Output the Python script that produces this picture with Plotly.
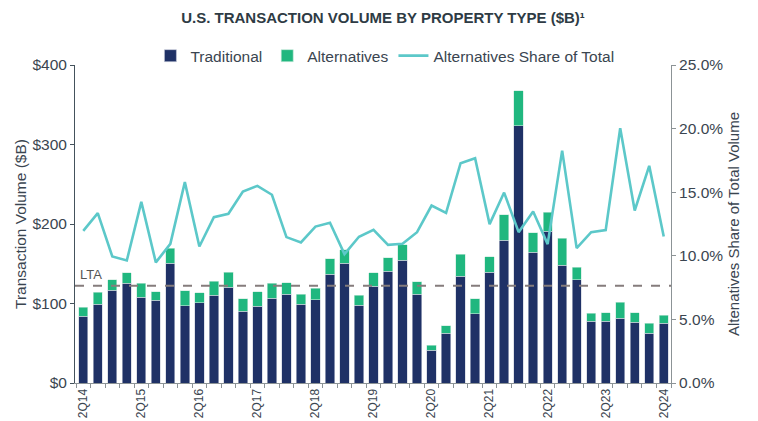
import plotly.graph_objects as go

quarters = []
for yr in range(14, 25):
    for q in range(1, 5):
        quarters.append(f"{q}Q{yr}")
quarters = quarters[1:42]  # 2Q14 .. 2Q24

traditional = [83.8, 98.9, 116.4, 125.2, 107.6, 103.9, 150.8, 97.2, 100.9, 110.6,
               120.6, 90.1, 96.3, 106.4, 111.4, 98.9, 104.7, 136.5, 150.4, 97.6,
               121.5, 140.3, 154.6, 111.8, 41.0, 62.8, 134.0, 87.1, 139.1, 179.7,
               323.8, 164.2, 191.0, 148.3, 129.8, 77.5, 77.5, 81.3, 76.2, 62.4, 75.4]
total = [95.5, 114.3, 129.8, 138.6, 125.7, 114.8, 169.6, 116.0, 113.5, 127.7,
         139.5, 106.0, 114.8, 125.2, 126.1, 111.4, 119.4, 156.6, 167.5, 110.6,
         138.6, 157.5, 173.8, 127.3, 47.7, 72.0, 162.1, 106.0, 158.7, 211.5,
         367.7, 189.3, 214.9, 181.8, 145.3, 88.0, 88.4, 101.4, 88.4, 75.4, 85.4]
alternatives = [round(t - a, 1) for t, a in zip(total, traditional)]
share_pct = [11.96, 13.35, 9.95, 9.63, 14.24, 9.48, 10.94, 15.79, 10.73, 13.04,
             13.3, 15.05, 15.5, 14.8, 11.47, 11.05, 12.3, 12.6, 10.13, 11.5,
             12.04, 10.86, 10.94, 11.86, 13.95, 13.38, 17.28, 17.67, 12.49, 14.97,
             11.86, 13.48, 10.92, 18.27, 10.6, 11.86, 12.02, 20.03, 13.56, 17.07, 11.52]
share = [s / 100 for s in share_pct]
lta = 122.3
x = list(range(len(quarters)))
label_idx = [i for i, q in enumerate(quarters) if q.startswith("2Q")]

NAVY = "#1f3166"
GREEN = "#20b77f"
TEAL = "#5cc8c9"
TXT = "#3a4550"
AX = "#8c9396"
AXL = "#44525c"
FONT = "Liberation Sans, Arial, sans-serif"

W, H = 750, 413  # page body adds an 8px offset

fig = go.Figure()
fig.add_trace(go.Bar(x=x, y=traditional, name="Traditional", marker_color=NAVY,
                     marker_line=dict(color="#c9cedb", width=0.6), width=0.64))
fig.add_trace(go.Bar(x=x, y=alternatives, name="Alternatives", marker_color=GREEN,
                     marker_line=dict(color="#c9e9dc", width=0.6), width=0.64))
fig.add_trace(go.Scatter(x=x, y=share, name="Alternatives Share of Total", yaxis="y2",
                         mode="lines", line=dict(color=TEAL, width=2.6)))

fig.add_shape(type="line", xref="paper", x0=0, x1=1, yref="y", y0=lta, y1=lta,
              line=dict(color="#857c7c", width=2.2, dash="dash"), layer="above")
fig.add_annotation(x=0.005, xref="paper", y=lta, yref="y", text="LTA", showarrow=False,
                   xanchor="left", yanchor="bottom", yshift=2,
                   font=dict(size=13, color="#555555", family=FONT))

fig.update_layout(
    width=W, height=H,
    barmode="stack", bargap=0.36,
    plot_bgcolor="white", paper_bgcolor="white",
    font=dict(family=FONT, size=15, color=TXT),
    margin=dict(l=67, r=87, t=57, b=38, autoexpand=False),
    title=dict(text="<b>U.S. TRANSACTION VOLUME BY PROPERTY TYPE ($B)¹</b>",
               x=0.5, xanchor="center", y=1 - 10 / H, yanchor="middle",
               font=dict(size=15, color="#2e3b44", family=FONT)),
    legend=dict(orientation="h", x=0.52, xanchor="center", y=1.028, yanchor="middle",
                font=dict(size=15.5, color=TXT), traceorder="normal",
                itemwidth=30, bgcolor="rgba(0,0,0,0)"),
    showlegend=True,
    xaxis=dict(range=[-0.57, 40.5], tickmode="array", tickvals=label_idx,
               ticktext=[quarters[i] for i in label_idx], tickangle=-90,
               tickfont=dict(size=12, color=TXT), ticks="", showgrid=False,
               showline=True, linecolor=AX, linewidth=1, zeroline=False,
               automargin=False,
               minor=dict(ticks="outside", tick0=-0.5, dtick=1, ticklen=4,
                          tickcolor=AX, showgrid=False)),
    yaxis=dict(range=[0, 400], dtick=100, tickprefix="$", tickformat="d",
               tickfont=dict(size=15.5, color=TXT),
               showgrid=False, showline=True, linecolor=AXL, linewidth=1,
               ticks="outside", ticklen=4, tickcolor=AXL, zeroline=False,
               automargin=False,
               title=dict(text="Transaction Volume ($B)", font=dict(size=15.5, color=TXT),
                          standoff=1)),
    yaxis2=dict(range=[0, 0.25], dtick=0.05, tickformat=".1%", overlaying="y",
                tickfont=dict(size=15.5, color=TXT),
                side="right", showgrid=False, showline=True, linecolor=AX, linewidth=1,
                ticks="outside", ticklen=4, tickcolor=AX, zeroline=False,
                automargin=False,
                title=dict(text="Altenatives Share of Total Volume",
                           font=dict(size=15, color=TXT), standoff=6)),
)

fig.write_html("out.html")
